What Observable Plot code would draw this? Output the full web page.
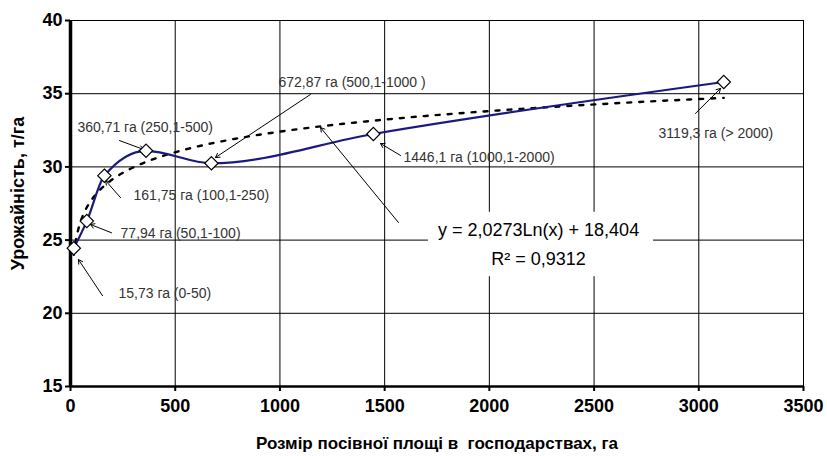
<!DOCTYPE html>
<html>
<head>
<meta charset="utf-8">
<script src="https://cdn.jsdelivr.net/npm/d3@7"></script>
<script src="https://cdn.jsdelivr.net/npm/@observablehq/plot@0.6"></script>
<style>
  html, body { margin: 0; padding: 0; background: #fff; }
  #chart { width: 827px; height: 456px; }
  svg { font-family: "Liberation Sans", Arial, sans-serif; }
</style>
</head>
<body>
<div id="chart"></div>
<script>
// ---- data ----
const area = [15.73, 77.94, 161.75, 360.71, 672.87, 1446.1, 3119.3];
const yieldVal = [24.45, 26.3, 29.4, 31.1, 30.25, 32.25, 35.8];
const labels = [
  "15,73 га (0-50)",
  "77,94 га (50,1-100)",
  "161,75 га (100,1-250)",
  "360,71 га (250,1-500)",
  "672,87 га (500,1-1000 )",
  "1446,1 га (1000,1-2000)",
  "3119,3 га (> 2000)"
];
// trend line coefficients as printed on the chart: y = a·Ln(x) + b
const trendA = 2.0273;
const trendB = 18.404;
const trendEq = "y = 2,0273Ln(x) + 18,404";
const trendR2 = "R² = 0,9312";
const xTicks = [0, 500, 1000, 1500, 2000, 2500, 3000, 3500];
const yTicks = [15, 20, 25, 30, 35, 40];
const xTitle = "Розмір посівної площі в  господарствах, га";
const yTitle = "Урожайність, т/га";

// annotation placement (data units)
const labelX = [229, 239, 301, 33, 993, 1590, 2808];
const labelY = [21.35, 25.45, 28.05, 32.7, 35.75, 30.65, 32.3];
const arrowX1 = [153, 196, 239, 234, 1146, 1576, 2984];
const arrowY1 = [21.2, 25.5, 27.9, 31.8, 34.95, 30.78, 33.65];
const arrowX2 = [38, 95, 167, 349, 692, 1480, 3104];
const arrowY2 = [23.67, 26.07, 29.07, 31.19, 30.64, 31.6, 35.36];

const points = area.map((x, i) => ({x, y: yieldVal[i]}));
const notes = labels.map((t, i) => ({
  t, x: labelX[i], y: labelY[i],
  x1: arrowX1[i], y1: arrowY1[i], x2: arrowX2[i], y2: arrowY2[i]
}));

// trend curve samples over the data range
const xs = d3.range(0, 201).map(i => Math.exp(Math.log(area[0]) + (Math.log(area[area.length - 1]) - Math.log(area[0])) * i / 200));
const trend = xs.map(x => ({x, y: trendA * Math.log(x) + trendB}));

const chart = Plot.plot({
  width: 827,
  height: 456,
  marginLeft: 70,
  marginRight: 24,
  marginTop: 20,
  marginBottom: 70,
  style: {fontFamily: "'Liberation Sans', Arial, sans-serif", background: "#fff"},
  x: {domain: [0, 3500], ticks: xTicks, label: null},
  y: {domain: [15, 40], ticks: yTicks, label: null},
  marks: [
    Plot.gridX(xTicks, {stroke: "#000", strokeOpacity: 1, strokeWidth: 1}),
    Plot.gridY(yTicks, {stroke: "#000", strokeOpacity: 1, strokeWidth: 1}),
    Plot.frame({stroke: "#000", strokeWidth: 1}),
    // equation box (white background over grid)
    Plot.rect([{x1: 1709, x2: 2784, y1: 22.5, y2: 26.9}], {x1: "x1", x2: "x2", y1: "y1", y2: "y2", fill: "#fff"}),
    Plot.line(trend, {x: "x", y: "y", stroke: "#000", strokeWidth: 2.4, strokeDasharray: "4,8"}),
    Plot.line(points, {x: "x", y: "y", stroke: "#1a1a80", strokeWidth: 2.2, curve: "monotone-x"}),
    Plot.ruleX([0], {stroke: "#000", strokeWidth: 3.5}),
    Plot.ruleY([15], {stroke: "#000", strokeWidth: 2.5}),
    Plot.axisX({ticks: xTicks, tickSize: 5, tickPadding: 8, fontSize: 18, fontWeight: "bold", label: null, tickFormat: d => String(d), stroke: "#000", strokeWidth: 2}),
    Plot.axisY({ticks: yTicks, tickSize: 5, tickPadding: 3, fontSize: 18, fontWeight: "bold", label: null, tickFormat: d => String(d), stroke: "#000", strokeWidth: 2}),
    Plot.arrow(notes, {x1: "x1", y1: "y1", x2: "x2", y2: "y2", stroke: "#000", strokeWidth: 1, headLength: 7, bend: false}),
    Plot.arrow([{x1: 1566, y1: 26.2, x2: 1194, y2: 32.69}], {x1: "x1", y1: "y1", x2: "x2", y2: "y2", stroke: "#000", strokeWidth: 1, headLength: 7, bend: false}),
    Plot.dot(points, {x: "x", y: "y", symbol: "diamond2", r: 6, fill: "#fff", stroke: "#000", strokeWidth: 1.2}),
    Plot.text(notes, {x: "x", y: "y", text: "t", textAnchor: "start", fontSize: 14, fill: "#333"}),
    Plot.text([trendEq], {x: 2235, y: 25.66, text: d => d, fontSize: 18, fill: "#000"}),
    Plot.text([trendR2], {x: 2235, y: 23.67, text: d => d, fontSize: 18, fill: "#000"}),
    Plot.text([xTitle], {frameAnchor: "bottom", dy: 62, text: d => d, fontSize: 17, fontWeight: "bold", fill: "#000"}),
    Plot.text([yTitle], {frameAnchor: "left", textAnchor: "middle", dx: -52, dy: -10, rotate: -90, text: d => d, fontSize: 18, fontWeight: "bold", fill: "#000"})
  ]
});
document.getElementById("chart").appendChild(chart);
</script>
</body>
</html>
